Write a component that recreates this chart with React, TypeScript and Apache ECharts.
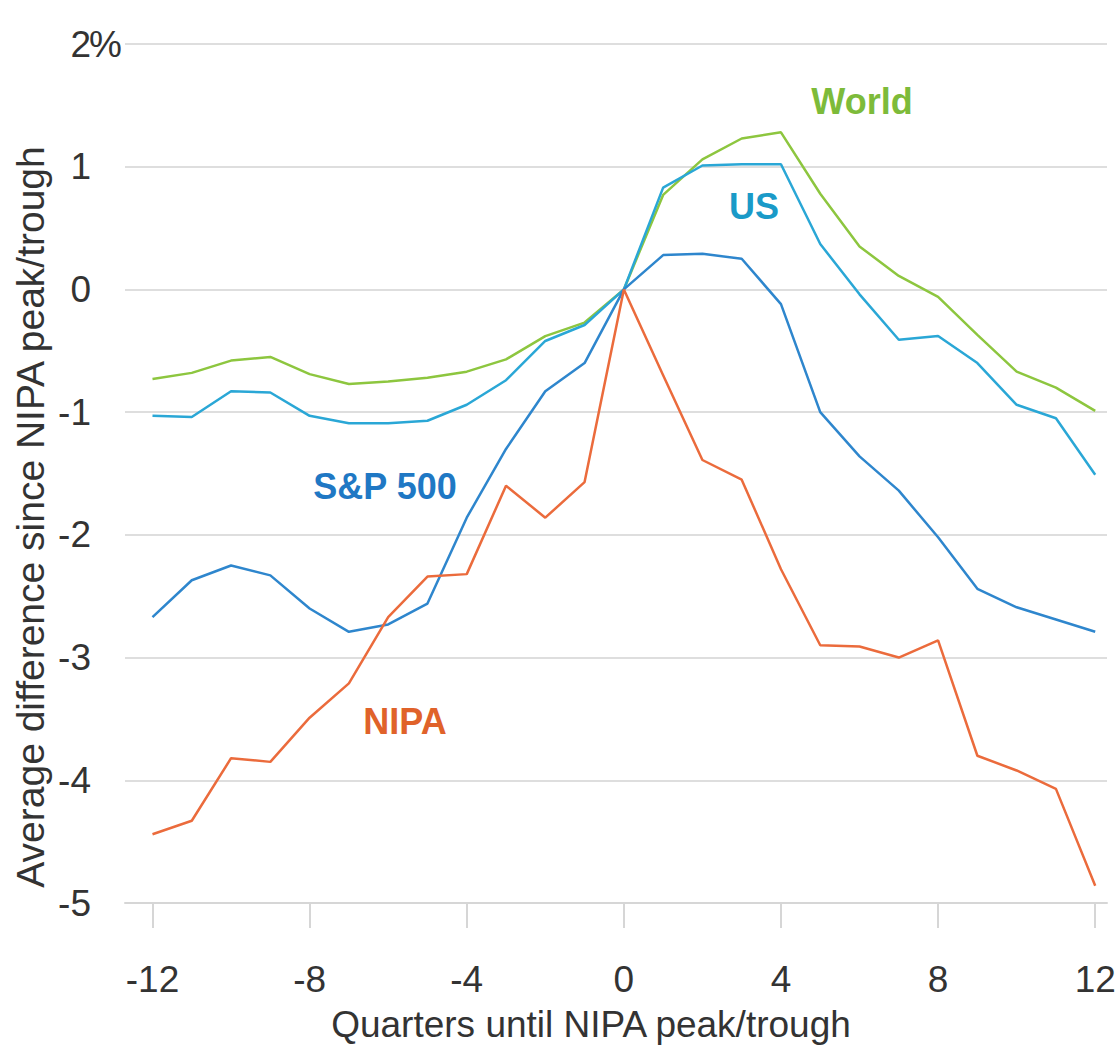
import React, { useEffect, useRef } from "react";
import * as echarts from "echarts";

const quarters = [-12, -11, -10, -9, -8, -7, -6, -5, -4, -3, -2, -1, 0, 1, 2, 3, 4, 5, 6, 7, 8, 9, 10, 11, 12];
const worldValues = [-0.73, -0.68, -0.58, -0.55, -0.69, -0.77, -0.75, -0.72, -0.67, -0.57, -0.38, -0.27, 0, 0.77, 1.06, 1.23, 1.28, 0.78, 0.35, 0.11, -0.06, -0.37, -0.67, -0.8, -0.99];
const usValues = [-1.03, -1.04, -0.83, -0.84, -1.03, -1.09, -1.09, -1.07, -0.94, -0.74, -0.42, -0.29, 0, 0.83, 1.01, 1.02, 1.02, 0.37, -0.04, -0.41, -0.38, -0.6, -0.94, -1.05, -1.51];
const spValues = [-2.67, -2.37, -2.25, -2.33, -2.6, -2.79, -2.73, -2.56, -1.86, -1.3, -0.83, -0.6, 0, 0.28, 0.29, 0.25, -0.12, -1.0, -1.36, -1.64, -2.02, -2.44, -2.59, -2.69, -2.79];
const nipaValues = [-4.44, -4.33, -3.82, -3.85, -3.49, -3.21, -2.67, -2.34, -2.32, -1.6, -1.86, -1.57, 0, -0.7, -1.39, -1.55, -2.28, -2.9, -2.91, -3.0, -2.86, -3.8, -3.92, -4.07, -4.86];
const xTicks = [-12, -8, -4, 0, 4, 8, 12];

const seriesDefs = [
  { name: "World", values: worldValues, color: "#8dc63f", labelColor: "#7dbb3a", lx: 862, ly: 101 },
  { name: "US", values: usValues, color: "#2aa7d6", labelColor: "#1a9ac8", lx: 754, ly: 206 },
  { name: "S&P 500", values: spValues, color: "#2e86cd", labelColor: "#1f78c4", lx: 385, ly: 486 },
  { name: "NIPA", values: nipaValues, color: "#eb6b3c", labelColor: "#e0622a", lx: 405, ly: 721 },
];

const FONT = "'Liberation Sans', Arial, Helvetica, sans-serif";

export default function App() {
  const ref = useRef<HTMLDivElement>(null);
  useEffect(() => {
    if (!ref.current) return;
    const chart = echarts.init(ref.current, undefined, { renderer: "svg" });
    chart.setOption({
      animation: false,
      backgroundColor: "#ffffff",
      grid: { left: 125, right: 12, top: 44, bottom: 126, containLabel: false },
      xAxis: {
        type: "value",
        min: -12.7,
        max: 12.3,
        axisLine: { show: true, onZero: false, lineStyle: { color: "#d6d6d6", width: 2 } },
        axisTick: { show: true, length: 25, customValues: xTicks, lineStyle: { color: "#d6d6d6", width: 2 } },
        axisLabel: {
          customValues: xTicks,
          margin: 58,
          fontSize: 37,
          fontFamily: FONT,
          color: "#333333",
        },
        splitLine: { show: false },
        name: "Quarters until NIPA peak/trough",
        nameLocation: "middle",
        nameGap: 103,
        nameTextStyle: { fontSize: 37, fontFamily: FONT, color: "#333333", padding: [0, 50, 0, 0] },
      },
      yAxis: {
        type: "value",
        min: -5,
        max: 2,
        interval: 1,
        axisLine: { show: false },
        axisTick: { show: false },
        axisLabel: {
          margin: 34,
          fontSize: 37,
          fontFamily: FONT,
          color: "#333333",
        },
        splitLine: { show: true, lineStyle: { color: "#dedede", width: 2 } },
      },
      series: seriesDefs.map((s) => ({
        name: s.name,
        type: "line",
        data: quarters.map((q, i) => [q, s.values[i]]),
        showSymbol: false,
        symbol: "none",
        lineStyle: { color: s.color, width: 2.5 },
        z: s.name === "NIPA" ? 3 : 2,
      })),
      graphic: [
        {
          type: "text",
          x: 89,
          y: 44,
          style: {
            text: "%",
            font: `37px ${FONT}`,
            fill: "#333333",
            align: "left",
            verticalAlign: "middle",
          },
        },
        {
          type: "text",
          x: 30,
          y: 517,
          rotation: Math.PI / 2,
          style: {
            text: "Average difference since NIPA peak/trough",
            font: `39px ${FONT}`,
            fill: "#333333",
            align: "center",
            verticalAlign: "middle",
          },
        },
        ...seriesDefs.map((s) => ({
          type: "text",
          x: s.lx,
          y: s.ly,
          style: {
            text: s.name,
            font: `bold 36px ${FONT}`,
            fill: s.labelColor,
            align: "center",
            verticalAlign: "middle",
          },
        })),
      ],
    });
    return () => chart.dispose();
  }, []);
  return (
    <div
      ref={ref}
      style={{ position: "absolute", left: 0, top: 0, width: 1119, height: 1048 }}
    />
  );
}
